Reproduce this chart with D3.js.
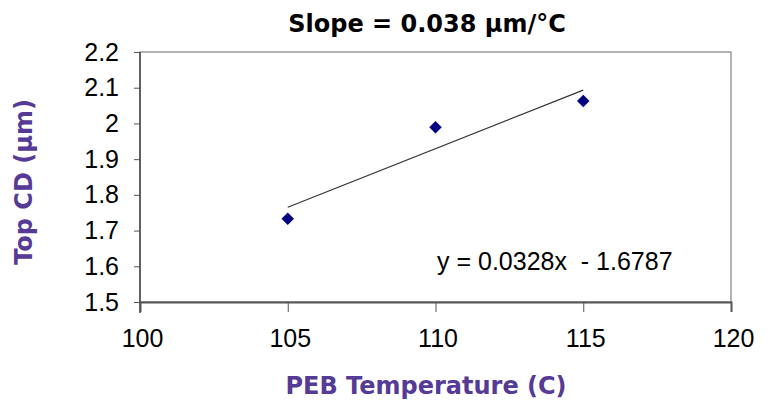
<!DOCTYPE html>
<html>
<head>
<meta charset="utf-8">
<script src="https://cdn.jsdelivr.net/npm/d3@7"></script>
<style>
  body { margin: 0; background: #fff; }
</style>
</head>
<body>
<div id="chart"></div>
<script>
// data
const temps = [105, 110, 115];
const topCD = [1.733, 1.989, 2.063];
const xTicks = [100, 105, 110, 115, 120];
const yTicks = [1.5, 1.6, 1.7, 1.8, 1.9, 2, 2.1, 2.2];
const fitSlope = 0.0328;
const fitIntercept = -1.6787;
const fitRange = [105, 115];

const W = 771, H = 401;
const plotL = 140, plotR = 731, plotT = 52, plotB = 302;

let svg = d3.select("#chart").append("svg")
    .attr("width", W)
    .attr("height", H);

let x = d3.scaleLinear().domain([100, 120]).range([plotL, plotR]);
let y = d3.scaleLinear().domain([1.5, 2.2]).range([plotB, plotT]);

// plot frame
svg.append("rect")
   .attr("x", plotL).attr("y", plotT)
   .attr("width", plotR - plotL).attr("height", plotB - plotT)
   .attr("fill", "none")
   .attr("stroke", "#9a9a9a")
   .attr("stroke-width", 1.5);

// y axis
let yAxis = svg.append("g")
   .attr("transform", `translate(${plotL},0)`)
   .call(d3.axisLeft(y).tickValues(yTicks).tickSize(6).tickPadding(15)
        .tickFormat(d3.format("")));
yAxis.select(".domain").remove();
yAxis.append("line")
     .attr("y1", plotT).attr("y2", plotB + 11)
     .attr("stroke", "#444").attr("stroke-width", 1.5);
yAxis.selectAll(".tick line").attr("stroke", "#555");
yAxis.selectAll("text")
     .attr("font-family", "Liberation Sans, Arial, sans-serif")
     .attr("font-size", 25)
     .attr("fill", "#000");

// x axis
let xAxis = svg.append("g")
   .attr("transform", `translate(0,${plotB})`)
   .call(d3.axisBottom(x).tickValues(xTicks).tickSize(10).tickPadding(17));
xAxis.select(".domain").attr("stroke", "#555").attr("stroke-width", 2);
xAxis.selectAll(".tick line").attr("stroke", "#555");
xAxis.selectAll("text")
     .attr("dx", 2)
     .attr("font-family", "Liberation Sans, Arial, sans-serif")
     .attr("font-size", 25)
     .attr("fill", "#000");

// trendline from the fitted equation
let fitPts = fitRange.map(t => [t, fitSlope * t + fitIntercept]);
svg.append("path")
   .attr("d", d3.line().x(d => x(d[0])).y(d => y(d[1]))(fitPts))
   .attr("stroke", "#333")
   .attr("stroke-width", 1.2)
   .attr("fill", "none");

// markers
svg.selectAll(".pt")
   .data(temps.map((t, i) => [t, topCD[i]]))
   .enter().append("path")
   .attr("class", "pt")
   .attr("transform", d => `translate(${x(d[0])},${y(d[1])})`)
   .attr("d", d3.symbol().type(d3.symbolDiamond2).size(100))
   .attr("fill", "#000080");

// equation label
svg.append("text")
   .attr("x", 437).attr("y", 270)
   .attr("font-family", "Liberation Sans, Arial, sans-serif")
   .attr("font-size", 25)
   .attr("fill", "#000")
   .style("white-space", "pre")
   .text(`y = ${fitSlope}x  - ${Math.abs(fitIntercept)}`);

// title
svg.append("text")
   .attr("x", 427).attr("y", 32)
   .attr("text-anchor", "middle")
   .attr("font-family", "DejaVu Sans, Verdana, sans-serif")
   .attr("font-weight", "bold")
   .attr("font-size", 24)
   .attr("fill", "#000")
   .text("Slope = 0.038 µm/°C");

// axis titles
svg.append("text")
   .attr("x", 426).attr("y", 394)
   .attr("text-anchor", "middle")
   .attr("font-family", "DejaVu Sans, Verdana, sans-serif")
   .attr("font-weight", "bold")
   .attr("font-size", 24)
   .attr("fill", "#553a96")
   .text("PEB Temperature (C)");

svg.append("text")
   .attr("transform", "translate(32,182) rotate(-90)")
   .attr("text-anchor", "middle")
   .attr("font-family", "DejaVu Sans, Verdana, sans-serif")
   .attr("font-weight", "bold")
   .attr("font-size", 24)
   .attr("fill", "#553a96")
   .text("Top CD (µm)");
</script>
</body>
</html>
